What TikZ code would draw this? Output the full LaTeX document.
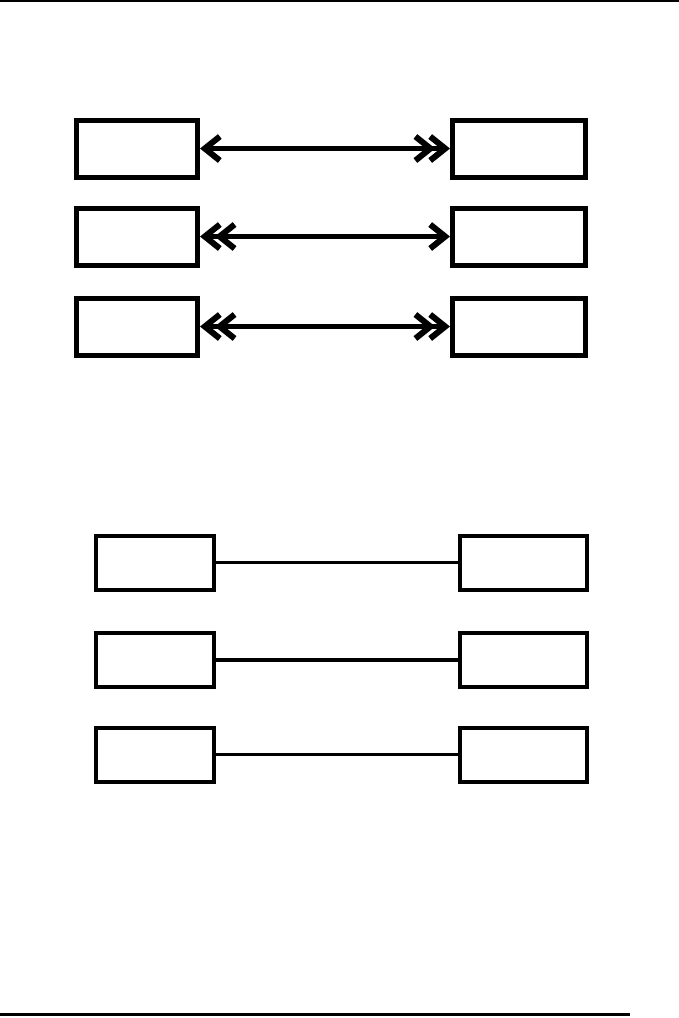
\documentclass[tikz,border=0pt]{standalone}
\usetikzlibrary{positioning,arrows.meta}
\tikzset{
  ebox/.style={draw,line width=5pt,minimum width=121pt,minimum height=57pt,inner sep=0pt},
  rbox/.style={draw,line width=4pt,minimum width=118pt,minimum height=54pt,inner sep=0pt},
  arr/.style={line width=4.5pt},
  lnk/.style={line width=3.5pt},
  barb/.tip={Straight Barb[length=15pt,width=24pt,line width=6pt]},
}
\begin{document}
\begin{tikzpicture}[x=1pt,y=-1pt]
  \useasboundingbox (0,0) rectangle (679,1018);
  % rules
  \draw[line width=2pt] (0,1) -- (679,1);
  \draw[line width=3pt] (0,1014) -- (630,1014);
  % upper part
  \node[ebox] (a1) at (137,148.5) {};
  \node[ebox,minimum width=133pt] (b1) at (519,148.5) {};
  \node[ebox] (a2) at (137,236.5) {};
  \node[ebox,minimum width=133pt] (b2) at (519,236.5) {};
  \node[ebox] (a3) at (137,326.5) {};
  \node[ebox,minimum width=133pt] (b3) at (519,326.5) {};
  \draw[arr,{barb[]}-{barb[sep=-8pt]barb[]}] (a1) -- (b1);
  \draw[arr,{barb[]barb[sep=-8pt]}-{barb[]}] (a2) -- (b2);
  \draw[arr,{barb[]barb[sep=-8pt]}-{barb[sep=-8pt]barb[]}] (a3) -- (b3);
  % lower part
  \node[rbox] (c1) at (155,562.5) {};
  \node[rbox,minimum width=127pt] (d1) at (523.5,562.5) {};
  \node[rbox] (c2) at (155,660) {};
  \node[rbox,minimum width=127pt] (d2) at (523.5,660) {};
  \node[rbox] (c3) at (155,754.5) {};
  \node[rbox,minimum width=127pt] (d3) at (523.5,754.5) {};
  \foreach \a/\b in {c1/d1,c2/d2,c3/d3}
    \draw[lnk] (\a) -- (\b);
\end{tikzpicture}
\end{document}
